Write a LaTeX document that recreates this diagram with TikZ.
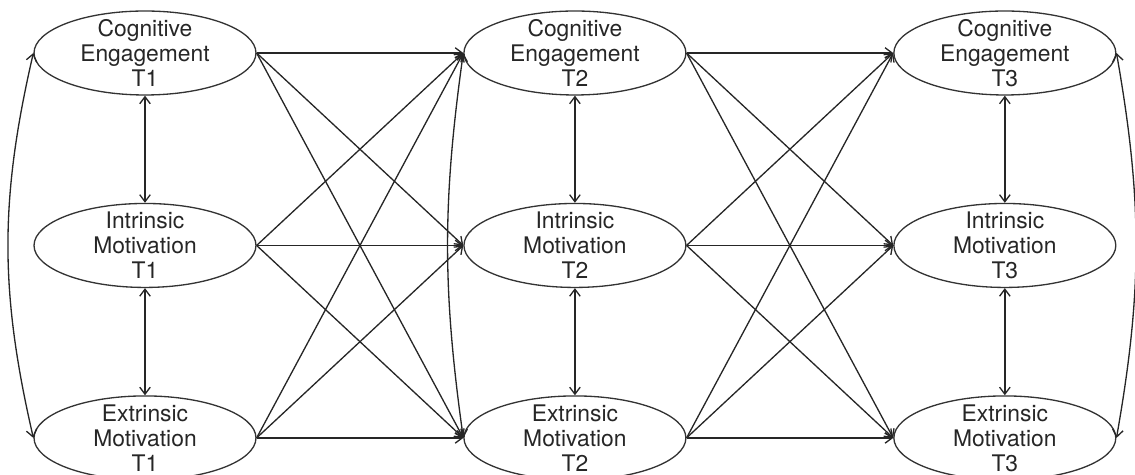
\documentclass[tikz,border=0pt]{standalone}
\usepackage{fontspec}
\setmainfont{TeX Gyre Heros}
\usetikzlibrary{shapes,arrows.meta,positioning}

\begin{document}
\begin{tikzpicture}[x=0.02cm,y=-0.02cm,node distance=3.85cm,
    >={Straight Barb[length=4pt,width=6pt]},line width=0.75pt]

  \tikzstyle{latent}=[ellipse,draw=black!80,line width=0.75pt,
                      minimum width=4.44cm,minimum height=1.68cm,inner sep=0pt]
  \tikzstyle{every label}=[align=center,text=black!85,
                           font=\fontsize{13}{14.2}\selectfont]
  \tikzstyle{reg}=[->,draw=black!85]
  \tikzstyle{cov}=[<->,draw=black!85]

  \useasboundingbox (0,0) rectangle (1135,475);
  \clip (0,0) rectangle (1135,475);

  % Time 1
  \node [latent,label=center:{Cognitive\\Engagement\\T1}]
                     (ce1) at (145,53)                      {};
  \node [latent,label=center:{Intrinsic\\Motivation\\T1}]
                     (im1) [below of=ce1]                   {};
  \node [latent,label=center:{Extrinsic\\Motivation\\T1}]
                     (em1) [below of=im1]                   {};

  % Time 2
  \node [latent,label=center:{Cognitive\\Engagement\\T2}]
                     (ce2) [right of=ce1,node distance=8.6cm] {};
  \node [latent,label=center:{Intrinsic\\Motivation\\T2}]
                     (im2) [below of=ce2]                   {};
  \node [latent,label=center:{Extrinsic\\Motivation\\T2}]
                     (em2) [below of=im2]                   {};

  % Time 3
  \node [latent,label=center:{Cognitive\\Engagement\\T3}]
                     (ce3) [right of=ce2,node distance=8.6cm] {};
  \node [latent,label=center:{Intrinsic\\Motivation\\T3}]
                     (im3) [below of=ce3]                   {};
  \node [latent,label=center:{Extrinsic\\Motivation\\T3}]
                     (em3) [below of=im3]                   {};

  % T1 -> T2
  \path (ce1.east) edge [reg] (ce2.west)
                   edge [reg] (im2.west)
                   edge [reg] (em2.west);
  \path (im1.east) edge [reg] (ce2.west)
                   edge [reg] (im2.west)
                   edge [reg] (em2.west);
  \path (em1.east) edge [reg] (ce2.west)
                   edge [reg] (im2.west)
                   edge [reg] (em2.west);

  % T2 -> T3
  \path (ce2.east) edge [reg] (ce3.west)
                   edge [reg] (im3.west)
                   edge [reg] (em3.west);
  \path (im2.east) edge [reg] (ce3.west)
                   edge [reg] (im3.west)
                   edge [reg] (em3.west);
  \path (em2.east) edge [reg] (ce3.west)
                   edge [reg] (im3.west)
                   edge [reg] (em3.west);

  % within each wave
  \path (ce1) edge [cov] (im1)
        (im1) edge [cov] (em1)
        (ce2) edge [cov] (im2)
        (im2) edge [cov] (em2)
        (ce3) edge [cov] (im3)
        (im3) edge [cov] (em3);

  \path (ce1.west) edge [cov,bend right=13] (em1.west);
  \path (ce2.west) edge [cov,bend right=8]  (em2.west);
  \path (ce3.east) edge [cov,bend left=10]  (em3.east);
\end{tikzpicture}
\end{document}
